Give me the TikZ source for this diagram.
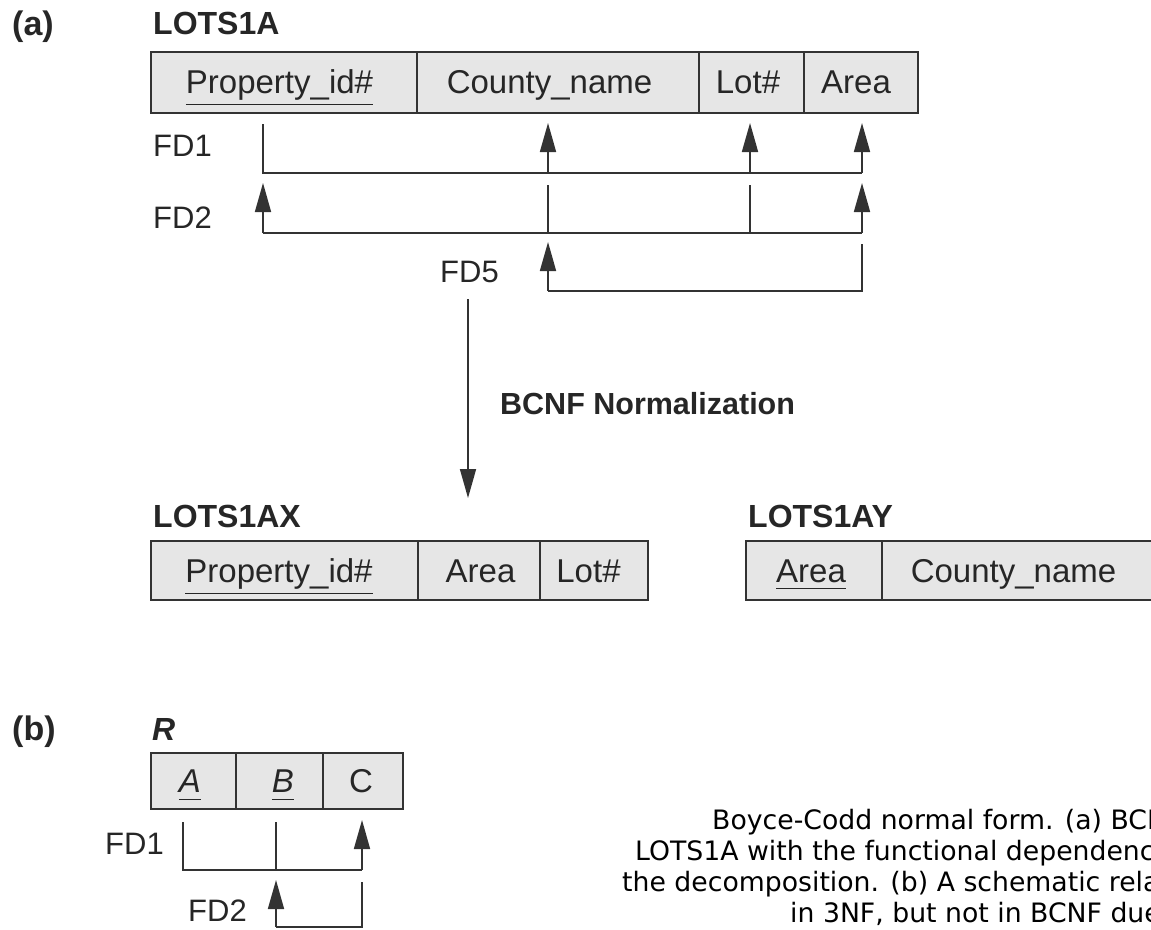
\documentclass[tikz,border=0pt]{standalone}
\usepackage{fontspec}
\setmainfont{Liberation Sans}
\newfontfamily\capfont{DejaVu Sans}
\usetikzlibrary{arrows.meta}
\definecolor{linec}{HTML}{333333}
\definecolor{cellc}{HTML}{E6E6E6}
\definecolor{txtc}{HTML}{262626}
\newcommand{\ulx}[2]{\setbox0\hbox{#2}\rlap{\rule[-#1]{\wd0}{1.5pt}}\box0}
\begin{document}
\begin{tikzpicture}[x=1pt,y=-1pt,
  tbl/.style={draw=linec, fill=cellc, line width=2.2pt, inner sep=0pt},
  divline/.style={draw=linec, line width=1.8pt},
  cell/.style={anchor=base, inner sep=0pt, text=txtc, font=\fontsize{33}{36}\selectfont},
  lbl/.style={anchor=base west, inner sep=0pt, text=txtc, font=\bfseries\fontsize{32}{36}\selectfont},
  fdl/.style={anchor=base west, inner sep=0pt, text=txtc, font=\fontsize{31}{34}\selectfont},
  capl/.style={anchor=base west, inner sep=0pt, text=black, font=\capfont\fontsize{26.7}{31}\selectfont},
  conn/.style={draw=linec, line width=1.7pt},
  arr/.style={conn, -{Triangle[length=29pt,width=16pt]}}]
\useasboundingbox (0,0) rectangle (1151,929);
\clip (0,0) rectangle (1151,929);

% ---------- (a) ----------
\node[lbl, font=\bfseries\fontsize{34}{36}\selectfont] (la) at (12,35) {(a)};
\node[lbl] (n1) at (153,34) {LOTS1A};
\node[tbl, minimum width=767pt, minimum height=61pt] (t1) at (534.5,82.5) {};
\draw[divline] (417,52) -- (417,113);
\draw[divline] (699,52) -- (699,113);
\draw[divline] (804,52) -- (804,113);
\node[cell] (t1a) at (279.5,93) {\ulx{12pt}{Property\_id\#}};
\node[cell] (t1b) at (549.5,93) {County\_name};
\node[cell] (t1c) at (748,93) {Lot\#};
\node[cell] (t1d) at (856,93) {Area};

\node[fdl] (fd1) at (153,156) {FD1};
\node[fdl] (fd2) at (153,228) {FD2};
\node[fdl] (fd5) at (440,282) {FD5};

% FD1
\coordinate (a1s) at (263,124);
\coordinate (a1r) at (862,173);
\coordinate (a1j1) at (548,173);
\coordinate (a1j2) at (750,173);
\coordinate (a1t1) at (548,123);
\coordinate (a1t2) at (750,123);
\coordinate (a1t3) at (862,123);
\draw[conn] (a1s) |- (a1r);
\draw[arr] (a1j1) -- (a1t1);
\draw[arr] (a1j2) -- (a1t2);
\draw[arr] (a1r) -- (a1t3);
% FD2
\coordinate (a2l) at (263,233);
\coordinate (a2r) at (862,233);
\coordinate (a2s1) at (548,185);
\coordinate (a2s2) at (750,185);
\coordinate (a2j1) at (548,233);
\coordinate (a2j2) at (750,233);
\coordinate (a2t1) at (263,183);
\coordinate (a2t2) at (862,183);
\draw[conn] (a2l) -- (a2r);
\draw[conn] (a2s1) -- (a2j1);
\draw[conn] (a2s2) -- (a2j2);
\draw[arr] (a2l) -- (a2t1);
\draw[arr] (a2r) -- (a2t2);
% FD5
\coordinate (a5s) at (862,244);
\coordinate (a5c) at (548,291);
\coordinate (a5t) at (548,242);
\draw[conn] (a5s) |- (a5c);
\draw[arr] (a5c) -- (a5t);

% BCNF arrow
\coordinate (bs) at (468,299);
\coordinate (be) at (468,498);
\draw[arr] (bs) -- (be);
\node[lbl, font=\bfseries\fontsize{30.5}{36}\selectfont] (bn) at (500,414) {BCNF Normalization};

% LOTS1AX
\node[lbl] (n2) at (153,527) {LOTS1AX};
\node[tbl, minimum width=497pt, minimum height=59pt] (t2) at (399.5,570.5) {};
\draw[divline] (418,541) -- (418,600);
\draw[divline] (540,541) -- (540,600);
\node[cell] (t2a) at (279,582) {\ulx{12pt}{Property\_id\#}};
\node[cell] (t2b) at (480.5,582) {Area};
\node[cell] (t2c) at (588.5,582) {Lot\#};

% LOTS1AY
\node[lbl] (n3) at (748,527) {LOTS1AY};
\node[tbl, minimum width=424pt, minimum height=59pt] (t3) at (958,570.5) {};
\draw[divline] (882,541) -- (882,600);
\node[cell] (t3a) at (811,582) {\ulx{7pt}{Area}};
\node[cell] (t3b) at (1013.5,582) {County\_name};

% ---------- (b) ----------
\node[lbl, font=\bfseries\fontsize{34}{36}\selectfont] (lb) at (12,740) {(b)};
\node[lbl, font=\bfseries\itshape\fontsize{32}{36}\selectfont] (n4) at (152,740) {R};
\node[tbl, minimum width=252pt, minimum height=56pt] (t4) at (277,781) {};
\draw[divline] (236,753) -- (236,809);
\draw[divline] (323,753) -- (323,809);
\node[cell, font=\itshape\fontsize{33}{36}\selectfont] (t4a) at (190,792) {\ulx{8pt}{A}};
\node[cell, font=\itshape\fontsize{33}{36}\selectfont] (t4b) at (283,792) {\ulx{8pt}{B}};
\node[cell] (t4c) at (361,792) {C};

\node[fdl] (bfd1) at (105,854) {FD1};
\node[fdl] (bfd2) at (188,921) {FD2};

\coordinate (b1s) at (183,822);
\coordinate (b1r) at (362,870);
\coordinate (b1s2) at (276,822);
\coordinate (b1j) at (276,870);
\coordinate (b1t) at (362,820);
\draw[conn] (b1s) |- (b1r);
\draw[conn] (b1s2) -- (b1j);
\draw[arr] (b1r) -- (b1t);
\coordinate (b2s) at (362,882);
\coordinate (b2c) at (276,927);
\coordinate (b2t) at (276,880);
\draw[conn] (b2s) |- (b2c);
\draw[arr] (b2c) -- (b2t);

% caption
\node[capl] (c1) at (712,829) {Boyce-Codd normal form. (a) BCNF};
\node[capl] (c2) at (635,860) {LOTS1A with the functional dependency};
\node[capl] (c3) at (622,891) {the decomposition. (b) A schematic relation};
\node[capl] (c4) at (790,922) {in 3NF, but not in BCNF due};
\end{tikzpicture}
\end{document}
